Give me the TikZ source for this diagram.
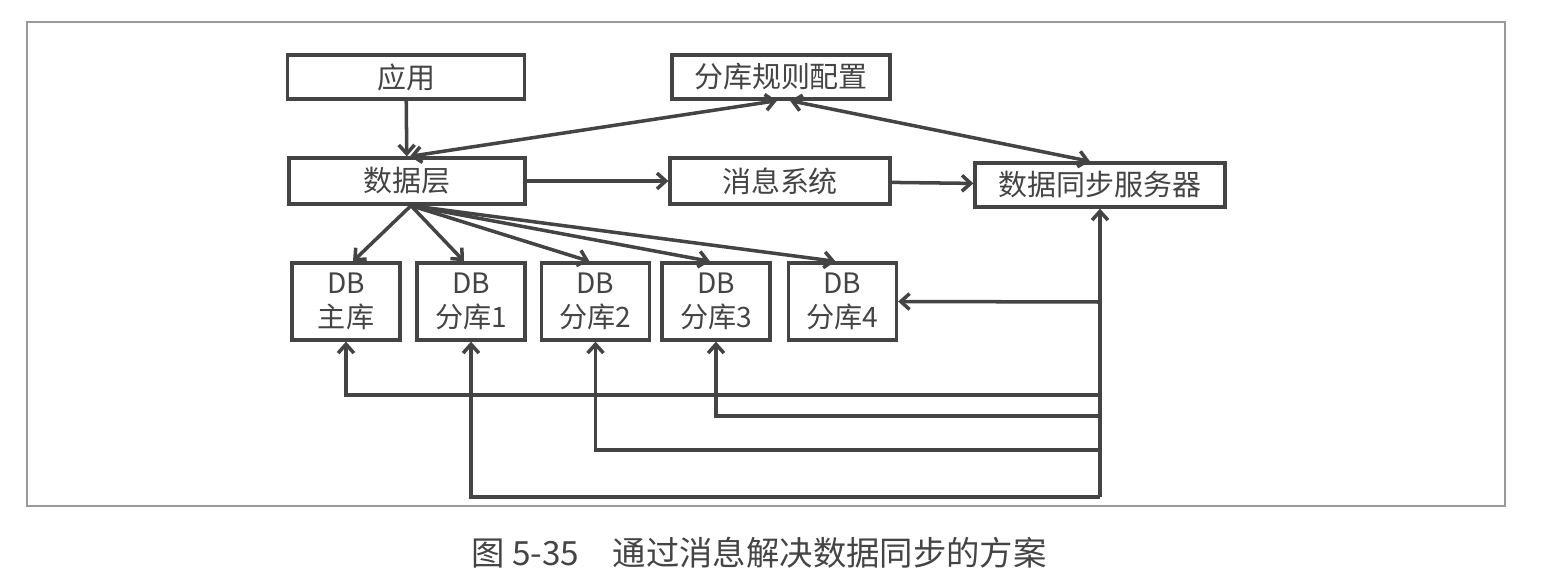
\documentclass[tikz,border=0pt]{standalone}
\usepackage{fontspec}
\setmainfont{Noto Sans CJK SC}
\usetikzlibrary{arrows.meta}
\definecolor{linegray}{HTML}{444444}
\definecolor{framegray}{HTML}{9A9A9A}
\begin{document}
\begin{tikzpicture}[x=0.02cm,y=-0.02cm,
	  thick,box/.style={draw=linegray,line width=1.9pt,inner sep=0pt,
	    text=linegray,font=\fontsize{16.5}{20}\selectfont,align=center},
	  dbbox/.style={box,font=\fontsize{16}{19}\selectfont,minimum width=2.16cm,minimum height=1.54cm},
	  link/.style={draw=linegray,line width=2pt,-{Straight Barb[length=5pt,width=9pt]}},
	  both/.style={link,{Straight Barb[length=5pt,width=9pt]}-{Straight Barb[length=5pt,width=9pt]}}]

	  \useasboundingbox (0,0) rectangle (1545,584);
	  \draw[framegray,line width=0.6pt] (27,22) rectangle (1505,506);

	  \node[box,minimum width=4.74cm,minimum height=0.88cm] (app) at (406,77) {应用};
	  \node[box,minimum width=4.36cm,minimum height=0.88cm] (rule) at (781,77) {分库规则配置};
	  \node[box,minimum width=4.72cm,minimum height=0.92cm] (data) at (407,181) {数据层};
	  \node[box,minimum width=4.4cm,minimum height=0.92cm] (msg) at (780,181) {消息系统};
	  \node[box,minimum width=5cm,minimum height=0.88cm] (sync) at (1100,185) {数据同步服务器};

	  \node[dbbox] (db0) at (346,301.5) {DB\\主库};
	  \node[dbbox] (db1) at (471,301.5) {DB\\分库1};
	  \node[dbbox] (db2) at (595.5,301.5) {DB\\分库2};
	  \node[dbbox] (db3) at (716,301.5) {DB\\分库3};
	  \node[dbbox] (db4) at (842.5,301.5) {DB\\分库4};

	  % upper part
	  \draw[link] (app) -- (data);
	  \draw[link] (data) -- (msg);
	  \draw[link] (msg) -- (sync);
	  \draw[both] ([xshift=0.06cm]data.north) -- ([xshift=-0.08cm]rule.south);
	  \draw[both] ([xshift=0.18cm]rule.south) -- ([xshift=-0.2cm]sync.north);

	  % fan out to the databases
	  \coordinate (fan) at ([xshift=0.08cm]data.south);
	  \draw[link] (fan) -- ([xshift=0.14cm]db0.north);
	  \draw[link] (fan) -- ([xshift=-0.14cm]db1.north);
	  \draw[link] (fan) -- ([xshift=-0.12cm]db2.north);
	  \draw[link] (fan) -- ([xshift=-0.12cm]db3.north);
	  \draw[link] (fan) -- ([xshift=-0.14cm]db4.north);

	  % sync bus
	  \coordinate (bus0) at (1100,395);
	  \coordinate (bus3) at (1100,416);
	  \coordinate (bus2) at (1100,450);
	  \coordinate (bus1) at (1100,497);
	  \coordinate (bus4) at (1100,302);
	  \draw[link] (bus1) -- (sync.south);
	  \draw[link] (bus4) -- (db4.east);
	  \draw[link] (bus0) -| (db0.south);
	  \draw[link] (bus3) -| (db3.south);
	  \draw[link] (bus2) -| (db2.south);
	  \draw[link] (bus1) -| (db1.south);

	  \node[text=linegray,font=\fontsize{19}{23}\selectfont] (caption) at (759,553)
	    {图 5-35\quad 通过消息解决数据同步的方案};

	\end{tikzpicture}
\end{document}
